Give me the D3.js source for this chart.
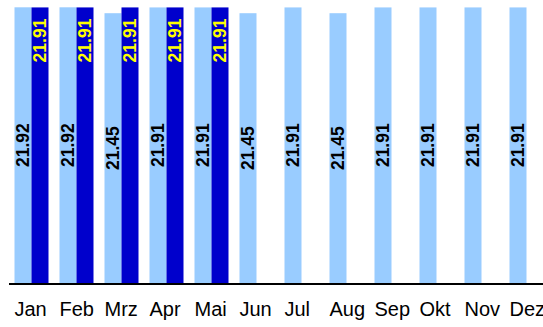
<!DOCTYPE html>
<html>
<head>
<meta charset="utf-8">
<script src="https://cdn.jsdelivr.net/npm/d3@7"></script>
<style>
  html, body { margin: 0; padding: 0; background: #ffffff; }
  svg { display: block; }
</style>
</head>
<body>
<svg id="chart" width="543" height="327"></svg>
<script>
// Monthly values, two series
const months = ["Jan", "Feb", "Mrz", "Apr", "Mai", "Jun", "Jul", "Aug", "Sep", "Okt", "Nov", "Dez"];
const seriesA = [21.92, 21.92, 21.45, 21.91, 21.91, 21.45, 21.91, 21.45, 21.91, 21.91, 21.91, 21.91];
const seriesB = [21.91, 21.91, 21.91, 21.91, 21.91, null, null, null, null, null, null, null];

const svg = d3.select("#chart");
const fontFamily = "'Liberation Sans', Arial, Helvetica, sans-serif";

const baseY = 283;
const x0 = d3.scaleBand().domain(months).range([9, 549])
  .paddingInner(11 / 45).paddingOuter(5.5 / 45);
const x1 = d3.scaleBand().domain(["a", "b"]).range([0, x0.bandwidth()]);
const y = d3.scaleLinear().domain([0, 22.5]).range([baseY, 0]);

const rows = months.map((m, i) => ({ month: m, a: seriesA[i], b: seriesB[i] }));

// light bars
svg.append("g").selectAll("rect").data(rows).join("rect")
  .attr("x", d => x0(d.month) + x1("a"))
  .attr("y", d => y(d.a))
  .attr("width", x1.bandwidth())
  .attr("height", d => y(0) - y(d.a))
  .attr("fill", "#99ccff");

// dark bars
const rowsB = rows.filter(d => d.b != null);
svg.append("g").selectAll("rect").data(rowsB).join("rect")
  .attr("x", d => x0(d.month) + x1("b"))
  .attr("y", d => y(d.b))
  .attr("width", x1.bandwidth())
  .attr("height", d => y(0) - y(d.b))
  .attr("fill", "#0000cc");

// value labels on light bars, centred vertically
svg.append("g").selectAll("text").data(rows).join("text")
  .attr("transform", d => {
    const cx = x0(d.month) + x1("a") + x1.bandwidth() / 2;
    const cy = (y(d.a) + y(0)) / 2;
    return `translate(${cx},${cy}) rotate(-90)`;
  })
  .attr("dy", "0.36em")
  .attr("text-anchor", "middle")
  .attr("font-family", fontFamily)
  .attr("font-weight", "bold")
  .attr("font-size", 17.5)
  .attr("fill", "#000000")
  .text(d => d.a.toFixed(2));

// value labels on dark bars, near the top
svg.append("g").selectAll("text").data(rowsB).join("text")
  .attr("transform", d => {
    const cx = x0(d.month) + x1("b") + x1.bandwidth() / 2;
    const cy = y(d.b) + 11.2;
    return `translate(${cx},${cy}) rotate(-90)`;
  })
  .attr("dy", "0.36em")
  .attr("text-anchor", "end")
  .attr("font-family", fontFamily)
  .attr("font-weight", "bold")
  .attr("font-size", 17.5)
  .attr("fill", "#ffff00")
  .text(d => d.b.toFixed(2));

// baseline
svg.append("line")
  .attr("x1", 9).attr("x2", 543)
  .attr("y1", baseY + 1).attr("y2", baseY + 1)
  .attr("stroke", "#000000")
  .attr("stroke-width", 2);

// month labels
svg.append("g").selectAll("text").data(months).join("text")
  .attr("x", d => x0(d))
  .attr("y", 316)
  .attr("text-anchor", "start")
  .attr("font-family", fontFamily)
  .attr("font-size", 20)
  .attr("fill", "#000000")
  .text(d => d);
</script>
</body>
</html>
